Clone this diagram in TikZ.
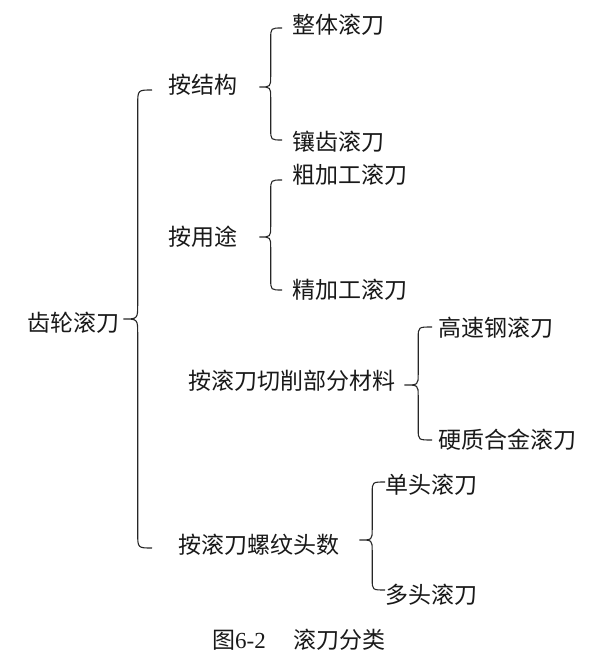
\documentclass[tikz,border=0pt]{standalone}
\usepackage{fontspec}
\setmainfont{Noto Sans CJK SC}
\newfontfamily\latinserif{Liberation Serif}
\usetikzlibrary{calc}
\newcommand\bracelink[4]{%
  \draw[bracestyle] let \p1=(#1), \p2=(#2), \p3=(#3), \n1={(\x1+\x2)/2} in
    (\p2) .. controls (\n1,\y2) .. (\n1,{\y2-#4}) -- (\n1,{\y1+#4})
    .. controls (\n1,\y1) .. (\p1)
    .. controls (\n1,\y1) .. (\n1,{\y1-#4}) -- (\n1,{\y3+#4})
    .. controls (\n1,\y3) .. (\p3);}
\begin{document}
\begin{tikzpicture}[x=1pt,y=-1pt,
  lbl/.style={anchor=west,inner sep=0pt,font=\fontsize{23}{26}\selectfont,text=black!90},
  bracestyle/.style={line width=1.1pt,black!85}]
\useasboundingbox (0,0) rectangle (601,671);
\node[lbl] (root) at (27,323) {齿轮滚刀};
\node[lbl] (a1) at (168,85) {按结构};
\node[lbl] (a2) at (168,237) {按用途};
\node[lbl] (a3) at (188,381) {按滚刀切削部分材料};
\node[lbl] (a4) at (178,545) {按滚刀螺纹头数};
\node[lbl] (b11) at (292,25) {整体滚刀};
\node[lbl] (b12) at (292,142) {镶齿滚刀};
\node[lbl] (b21) at (292,175) {粗加工滚刀};
\node[lbl] (b22) at (292,290) {精加工滚刀};
\node[lbl] (b31) at (438,328) {高速钢滚刀};
\node[lbl] (b32) at (438,440) {硬质合金滚刀};
\node[lbl] (b41) at (385,485) {单头滚刀};
\node[lbl] (b42) at (385,595) {多头滚刀};
\node[lbl] (cap) at (212,640) {图{\latinserif 6-2}\hspace{1.2em}滚刀分类};
% brace anchor points
\coordinate (t0) at ($(root.east)+(4,-4)$);
\coordinate (u0) at ($(a1.west)+(-16,5)$);
\coordinate (d0) at ($(a4.west)+(-26,3)$);
\coordinate (t1) at ($(a1.east)+(22,2)$);
\coordinate (u1) at ($(b11.west)+(-10,3)$);
\coordinate (d1) at ($(b12.west)+(-10,-2)$);
\coordinate (t2) at ($(a2.east)+(22,0)$);
\coordinate (u2) at ($(b21.west)+(-10,5)$);
\coordinate (d2) at ($(b22.west)+(-10,0)$);
\coordinate (t3) at ($(a3.east)+(9,4)$);
\coordinate (u3) at ($(b31.west)+(-6,-1)$);
\coordinate (d3) at ($(b32.west)+(-6,0)$);
\coordinate (t4) at ($(a4.east)+(20,-5)$);
\coordinate (u4) at ($(b41.west)+(0,-3)$);
\coordinate (d4) at ($(b42.west)+(0,-5)$);
\bracelink{t0}{u0}{d0}{15pt}
\bracelink{t1}{u1}{d1}{11pt}
\bracelink{t2}{u2}{d2}{11pt}
\bracelink{t3}{u3}{d3}{11pt}
\bracelink{t4}{u4}{d4}{11pt}
\end{tikzpicture}
\end{document}
